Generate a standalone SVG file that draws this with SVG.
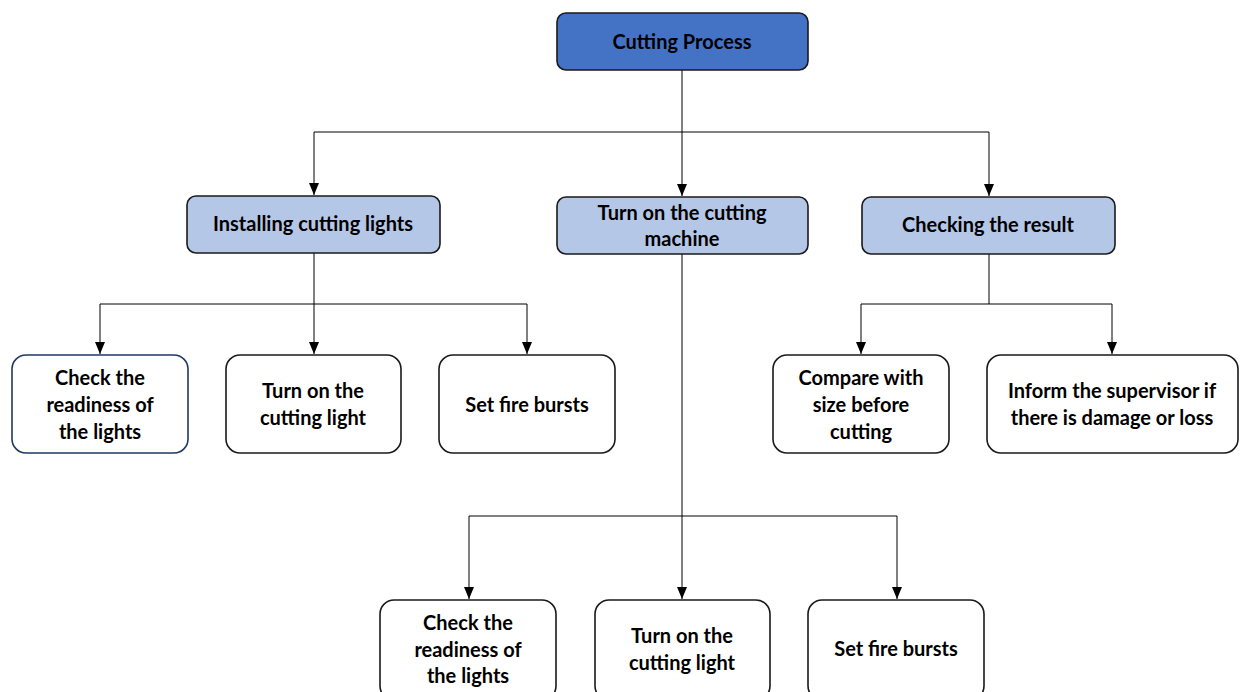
<svg xmlns="http://www.w3.org/2000/svg" width="1240" height="692" viewBox="0 0 1240 692">
<defs>
<marker id="arr" markerWidth="12" markerHeight="10" refX="12" refY="5" orient="auto" markerUnits="userSpaceOnUse" viewBox="0 0 12 10">
<path d="M0,0 L12,5 L0,10 Z" fill="#000"/>
</marker>
</defs>
<style>
.box{stroke:#1a1a1a;stroke-width:1.6}
.top{fill:#4472C4}
.mid{fill:#B4C7E7}
.leaf{fill:#fff}
.t{font-family:Lato,"Open Sans","Liberation Sans",sans-serif;font-weight:bold;font-size:20px;fill:#000;text-anchor:middle}
.c{fill:none;stroke:#000;stroke-width:1}
</style>
<rect width="1240" height="692" fill="#fff"/>
<g id="connectors">
<path class="c" d="M682,70 V132"/>
<path class="c" d="M314,132 H989"/>
<path class="c" d="M314,132 V195" marker-end="url(#arr)"/>
<path class="c" d="M682,132 V196" marker-end="url(#arr)"/>
<path class="c" d="M989,132 V196" marker-end="url(#arr)"/>
<path class="c" d="M314,253 V304"/>
<path class="c" d="M100,304 H527"/>
<path class="c" d="M100,304 V354" marker-end="url(#arr)"/>
<path class="c" d="M314,304 V354" marker-end="url(#arr)"/>
<path class="c" d="M527,304 V354" marker-end="url(#arr)"/>
<path class="c" d="M989,254 V304"/>
<path class="c" d="M861,304 H1112"/>
<path class="c" d="M861,304 V354" marker-end="url(#arr)"/>
<path class="c" d="M1112,304 V354" marker-end="url(#arr)"/>
<path class="c" d="M682,254 V516"/>
<path class="c" d="M469,516 H897"/>
<path class="c" d="M469,516 V599" marker-end="url(#arr)"/>
<path class="c" d="M682,516 V599" marker-end="url(#arr)"/>
<path class="c" d="M897,516 V599" marker-end="url(#arr)"/>
</g>
<g id="n-cutting-process">
<rect class="box top" x="557" y="13" width="251" height="57" rx="9"/>
<text class="t" x="682" y="49">Cutting Process</text>
</g>
<g id="n-installing">
<rect class="box mid" x="187" y="196" width="253" height="57" rx="9"/>
<text class="t" x="313" y="231">Installing cutting lights</text>
</g>
<g id="n-turn-on-machine">
<rect class="box mid" x="557" y="197" width="251" height="57" rx="9"/>
<text class="t" x="682" y="220">Turn on the cutting</text>
<text class="t" x="682" y="246">machine</text>
</g>
<g id="n-checking">
<rect class="box mid" x="862" y="197" width="253" height="57" rx="9"/>
<text class="t" x="988" y="232">Checking the result</text>
</g>
<g id="n-check-readiness-1">
<rect class="box leaf" x="12" y="355" width="176" height="98" rx="14" style="stroke:#203864"/>
<text class="t" x="100" y="385">Check the</text>
<text class="t" x="100" y="412">readiness of</text>
<text class="t" x="100" y="439">the lights</text>
</g>
<g id="n-turn-on-light-1">
<rect class="box leaf" x="226" y="355" width="175" height="98" rx="14"/>
<text class="t" x="313" y="398">Turn on the</text>
<text class="t" x="313" y="425">cutting light</text>
</g>
<g id="n-set-fire-1">
<rect class="box leaf" x="439" y="355" width="176" height="98" rx="14"/>
<text class="t" x="527" y="412">Set fire bursts</text>
</g>
<g id="n-compare">
<rect class="box leaf" x="773" y="355" width="176" height="98" rx="14"/>
<text class="t" x="861" y="385">Compare with</text>
<text class="t" x="861" y="412">size before</text>
<text class="t" x="861" y="439">cutting</text>
</g>
<g id="n-inform">
<rect class="box leaf" x="987" y="355" width="251" height="98" rx="14"/>
<text class="t" x="1112" y="398">Inform the supervisor if</text>
<text class="t" x="1112" y="425">there is damage or loss</text>
</g>
<g id="n-check-readiness-2">
<rect class="box leaf" x="380" y="600" width="176" height="100" rx="14"/>
<text class="t" x="468" y="630">Check the</text>
<text class="t" x="468" y="657">readiness of</text>
<text class="t" x="468" y="683">the lights</text>
</g>
<g id="n-turn-on-light-2">
<rect class="box leaf" x="595" y="600" width="175" height="100" rx="14"/>
<text class="t" x="682" y="643">Turn on the</text>
<text class="t" x="682" y="670">cutting light</text>
</g>
<g id="n-set-fire-2">
<rect class="box leaf" x="808" y="600" width="176" height="100" rx="14"/>
<text class="t" x="896" y="656">Set fire bursts</text>
</g>
</svg>
